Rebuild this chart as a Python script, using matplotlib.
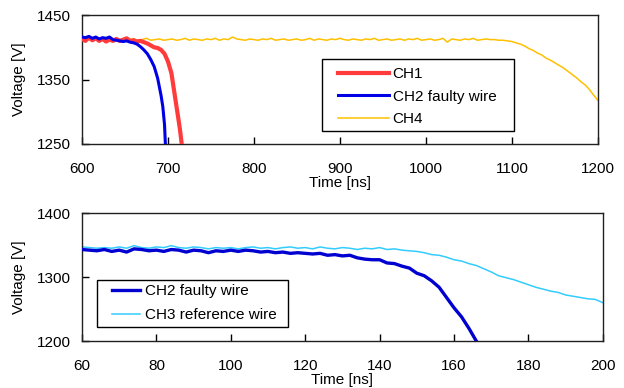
import matplotlib
matplotlib.use("Agg")
import matplotlib.pyplot as plt
from matplotlib.patches import Rectangle

plt.rcParams['font.family'] = ['Liberation Sans', 'DejaVu Sans']

# ---------------- Top panel data ----------------
t_ch4 = list(range(600, 1201, 5))
v_ch4 = [1411, 1413, 1412, 1414, 1411, 1412, 1413, 1411, 1413, 1412,
         1410, 1412, 1413, 1411, 1412, 1414, 1411, 1412, 1413, 1411,
         1412, 1413, 1411, 1412, 1414, 1411, 1413, 1412, 1411, 1413,
         1412, 1414, 1411, 1413, 1412, 1416, 1413, 1412, 1411, 1413,
         1412, 1411, 1413, 1412, 1414, 1411, 1412, 1413, 1411, 1412,
         1413, 1411, 1412, 1414, 1411, 1413, 1412, 1411, 1413, 1412,
         1414, 1412, 1411, 1413, 1412, 1411, 1413, 1412, 1414, 1411,
         1412, 1413, 1411, 1412, 1413, 1411, 1413, 1412, 1414, 1411,
         1412, 1413, 1411, 1412, 1414, 1408, 1413, 1412, 1411, 1413,
         1412, 1414, 1411, 1412, 1413, 1412, 1412, 1411, 1411, 1410,
         1409, 1407, 1405, 1402, 1398, 1395, 1391, 1388, 1383, 1380,
         1376, 1372, 1368, 1363, 1358, 1353, 1347, 1342, 1335, 1326,
         1318]

t_ch1 = [600, 604, 608, 612, 616, 620, 624, 628, 632, 636, 640, 644, 648,
         652, 656, 660, 664, 668, 672, 676, 680, 684, 688, 692, 696, 700,
         704, 708, 712, 714, 716]
v_ch1 = [1413, 1410, 1415, 1411, 1414, 1410, 1413, 1409, 1412, 1410, 1413,
         1410, 1412, 1414, 1410, 1411, 1409, 1410, 1408, 1406, 1403, 1400,
         1399, 1396, 1390, 1378, 1360, 1325, 1290, 1272, 1250]

t_ch2_top = [600, 604, 608, 612, 616, 620, 624, 628, 632, 636, 640, 644,
             648, 652, 656, 660, 664, 668, 672, 676, 680, 684, 688, 692,
             694, 696, 697]
v_ch2_top = [1416, 1415, 1417, 1414, 1416, 1413, 1415, 1414, 1416, 1412,
             1411, 1410, 1409, 1410, 1408, 1407, 1405, 1401, 1396, 1390,
             1381, 1370, 1352, 1325, 1308, 1280, 1250]

# ---------------- Bottom panel data ----------------
t_ch2_bot = list(range(60, 167, 2))
v_ch2_bot = [1343, 1342, 1341, 1343, 1340, 1342, 1339, 1344, 1343, 1341,
             1342, 1340, 1343, 1342, 1339, 1342, 1341, 1338, 1341, 1340,
             1342, 1340, 1342, 1341, 1339, 1340, 1338, 1339, 1337, 1338,
             1337, 1336, 1337, 1334, 1335, 1333, 1334, 1330, 1328, 1327,
             1327, 1322, 1321, 1317, 1314, 1306, 1302, 1294, 1284, 1268,
             1252, 1238, 1220, 1200]

t_ch3 = list(range(60, 201, 2))
v_ch3 = [1347, 1346, 1345, 1346, 1345, 1347, 1345, 1349, 1346, 1345,
         1347, 1346, 1349, 1346, 1345, 1347, 1346, 1344, 1346, 1345,
         1346, 1344, 1346, 1347, 1345, 1346, 1344, 1346, 1347, 1345,
         1346, 1344, 1347, 1345, 1344, 1346, 1345, 1343, 1345, 1344,
         1346, 1343, 1344, 1342, 1341, 1340, 1338, 1335, 1334, 1331,
         1327, 1325, 1321, 1318, 1313, 1308, 1302, 1299, 1296, 1292,
         1288, 1284, 1281, 1278, 1276, 1272, 1270, 1268, 1266, 1265,
         1260]

top_xticks = [600, 700, 800, 900, 1000, 1100, 1200]
top_yticks = [1250, 1350, 1450]
bot_xticks = [60, 80, 100, 120, 140, 160, 180, 200]
bot_yticks = [1200, 1300, 1400]

fig = plt.figure(figsize=(6.24, 3.88), dpi=100)
ax1 = fig.add_axes([0.1314, 0.629, 0.958 - 0.1314, 0.961 - 0.629])
ax2 = fig.add_axes([0.1314, 0.121, 0.966 - 0.1314, 0.451 - 0.121])

FS = 11

ax1.plot(t_ch1, v_ch1, color='#FF3B3B', lw=3.0, label='CH1', zorder=3)
ax1.plot(t_ch2_top, v_ch2_top, color='#0000E6', lw=2.2, label='CH2 faulty wire', zorder=4)
ax1.plot(t_ch4, v_ch4, color='#FFC000', lw=1.1, label='CH4', zorder=2)
ax1.set_xlim(600, 1200)
ax1.set_ylim(1250, 1450)
ax1.set_xticks(top_xticks)
ax1.set_yticks(top_yticks)

ax2.plot(t_ch2_bot, v_ch2_bot, color='#0000D0', lw=2.4, label='CH2 faulty wire', zorder=3)
ax2.plot(t_ch3, v_ch3, color='#33CCFF', lw=1.1, label='CH3 reference wire', zorder=2)
ax2.set_xlim(60, 200)
ax2.set_ylim(1200, 1400)
ax2.set_xticks(bot_xticks)
ax2.set_yticks(bot_yticks)

for ax in (ax1, ax2):
    ax.tick_params(direction='in', length=5, width=1, labelsize=FS,
                   top=False, right=False)
    ax.tick_params(axis='x', pad=13)
    ax.tick_params(axis='y', pad=8)
    for s in ax.spines.values():
        s.set_linewidth(1.0)
        s.set_color('#202020')
    ax.set_xlabel('Time [ns]', fontsize=FS, labelpad=0)
    ax.set_ylabel('Voltage [V]', fontsize=FS, labelpad=8)

# legend frames drawn as rectangles in axes coordinates
ax1.add_patch(Rectangle((0.465, 0.10), 0.837 - 0.465, 0.659 - 0.10,
                        transform=ax1.transAxes, facecolor='white',
                        edgecolor='black', lw=1.0, zorder=5))
leg1 = ax1.legend(loc='upper left', bbox_to_anchor=(0.497, 0.594),
                  fontsize=FS, frameon=False,
                  handlelength=3.3, handletextpad=0.25, labelspacing=0.55,
                  borderpad=0, borderaxespad=0)
leg1.set_zorder(6)

ax2.add_patch(Rectangle((0.028, 0.107), 0.396 - 0.028, 0.477 - 0.107,
                        transform=ax2.transAxes, facecolor='white',
                        edgecolor='black', lw=1.0, zorder=5))
leg2 = ax2.legend(loc='upper left', bbox_to_anchor=(0.057, 0.443),
                  fontsize=FS, frameon=False,
                  handlelength=1.85, handletextpad=0.3, labelspacing=0.65,
                  borderpad=0, borderaxespad=0)
leg2.set_zorder(6)

fig.savefig('out.png', dpi=100)
